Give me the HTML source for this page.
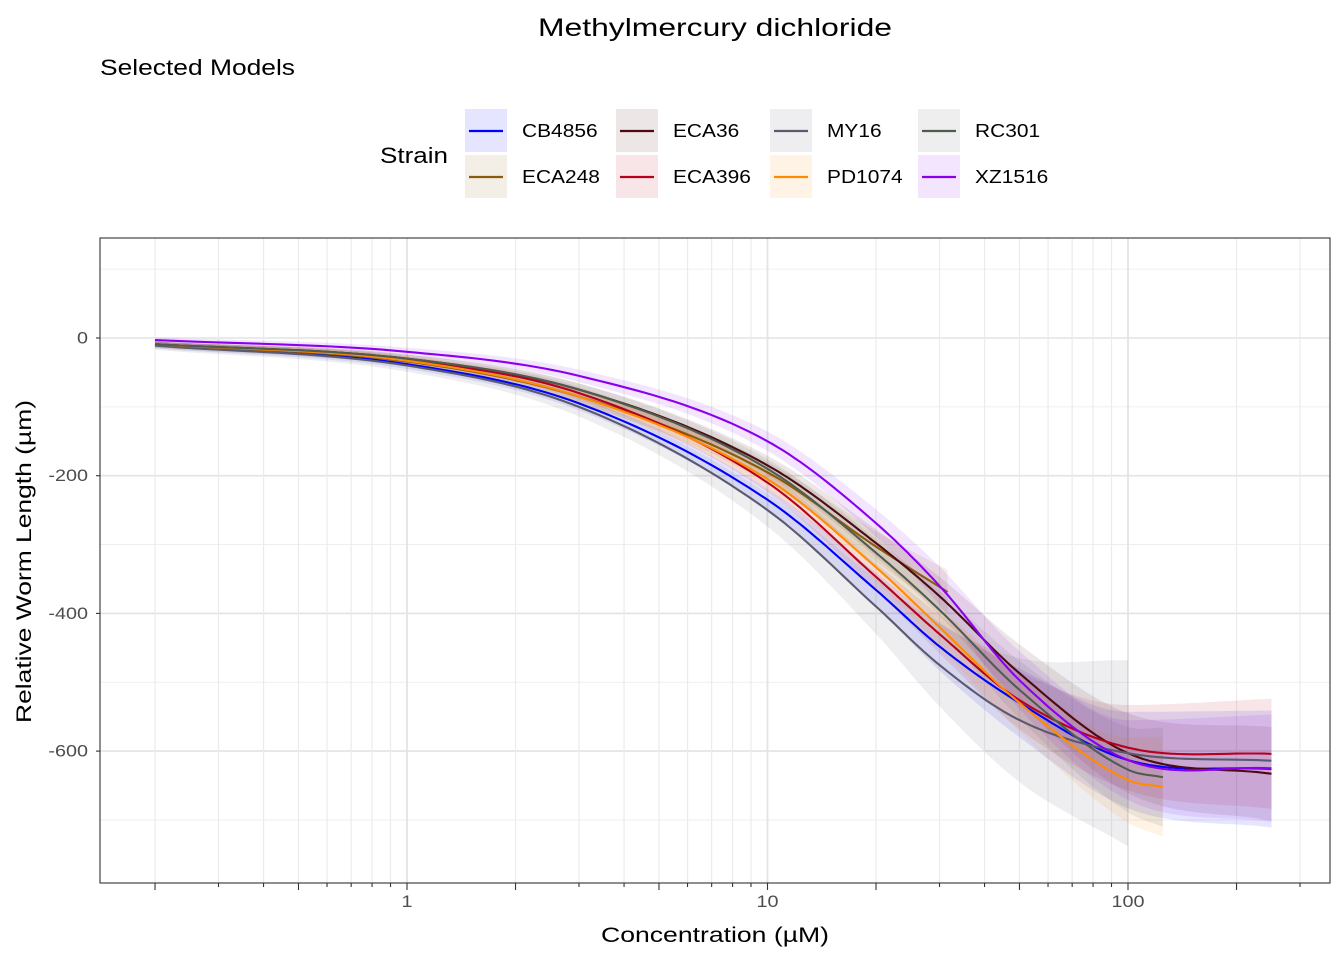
<!DOCTYPE html>
<html><head><meta charset="utf-8"><style>
body{margin:0;background:#fff;font-family:"Liberation Sans",Arial,sans-serif;}
svg text{font-family:"Liberation Sans",Arial,sans-serif;}
</style></head><body>
<svg id="chart" width="1344" height="960" viewBox="0 0 1344 960">
<rect width="1344" height="960" fill="#fff"/>
<text x="538" y="36" font-size="25" textLength="354" lengthAdjust="spacingAndGlyphs" fill="#000">Methylmercury dichloride</text>
<text x="100" y="75" font-size="22" textLength="195" lengthAdjust="spacingAndGlyphs" fill="#000">Selected Models</text>
<text x="380" y="163" font-size="22" textLength="68" lengthAdjust="spacingAndGlyphs" fill="#000">Strain</text>
<g id="legend"></g>
<g id="grid"></g>
<g id="ribbons"></g>
<g id="lines"></g>
<rect x="100" y="238" width="1230" height="645" fill="none" stroke="#333" stroke-width="1.1"/>
<g id="axes"></g>
<text x="601" y="942" font-size="21" textLength="228" lengthAdjust="spacingAndGlyphs" fill="#000">Concentration (µM)</text>
<text transform="translate(31,723) rotate(-90)" font-size="21" textLength="323" lengthAdjust="spacingAndGlyphs" fill="#000">Relative Worm Length (µm)</text>
</svg>
<script>
const strains = ["CB4856","ECA248","ECA36","ECA396","MY16","PD1074","RC301","XZ1516"];
const colors = ["#0000ff","#8b5a0a","#4d0a14","#b5001e","#5a5a6e","#ff8c00","#4f5d50","#8a00ee"];
const conc = [0.2,1,3,10,20,30,50,100,250];
const concShort = [0.2,1,3,10,20,30,50,100,125];
const concEca248 = [0.2,1,3,10,20,31.6];
const yCB4856 = [-10,-38,-95,-235,-366,-448,-530,-613,-626];
const yECA248 = [-10,-34,-85,-195,-303,-369];
const yECA36 = [-9,-30,-75,-185,-298,-375,-487,-603,-633];
const yECA396 = [-9,-32,-80,-210,-347,-430,-526,-595,-604];
const yMY16 = [-11,-40,-100,-250,-390,-475,-555,-603,-614];
const yPD1074 = [-9,-33,-85,-205,-333,-420,-530,-642,-652];
const yRC301 = [-9,-30,-75,-190,-312,-395,-511,-627,-638];
const yXZ1516 = [-3,-20,-55,-150,-269,-360,-497,-613,-625];
const wCB4856 = [5,7,10,16,25,35,50,70,85];
const wECA248 = [5,7,10,15,22,32];
const wECA36 = [4,6,9,14,20,28,42,58,68];
const wECA396 = [4,6,9,14,20,28,42,62,80];
const wMY16 = [6,9,14,24,40,60,90,135];
const wPD1074 = [4,6,9,14,20,28,42,62,72];
const wRC301 = [4,6,9,14,20,28,42,62,72];
const wXZ1516 = [4,6,9,14,20,28,42,58,78];
const yTicks = [0,-200,-400,-600];
const yMinor = [100,-100,-300,-500,-700];
const xMajor = [1,10,100];
const xLabels = ["1","10","100"];

const series = [
 [conc,yCB4856,wCB4856],[concEca248,yECA248,wECA248],[conc,yECA36,wECA36],[conc,yECA396,wECA396],
 [conc,yMY16,wMY16],[concShort,yPD1074,wPD1074],[concShort,yRC301,wRC301],[conc,yXZ1516,wXZ1516]];

const L=100,R=1330,T=238,B=883;
function X(c){return 407+(Math.log10(c))*360.5;}
function Y(v){return 338-v*0.6885;}
const NS="http://www.w3.org/2000/svg";
function mk(tag,attrs,parent){const e=document.createElementNS(NS,tag);for(const k in attrs)e.setAttribute(k,attrs[k]);parent.appendChild(e);return e;}
function widen(t,f){const w=t.getComputedTextLength();if(w>0){t.setAttribute('textLength',(w*f).toFixed(1));t.setAttribute('lengthAdjust','spacingAndGlyphs');}}

const grid=document.getElementById('grid');
mk('rect',{x:L,y:T,width:R-L,height:B-T,fill:'#fff'},grid);
yMinor.forEach(v=>{const e=mk('line',{x1:L,x2:R,y1:Y(v),y2:Y(v),stroke:'#ebebeb','stroke-width':0.8},grid);

});
yTicks.forEach(v=>{const e=mk('line',{x1:L,x2:R,y1:Y(v),y2:Y(v),stroke:'#e3e3e3','stroke-width':1.6},grid);

});
const axes=document.getElementById('axes');
for(let d=-1;d<=2;d++){for(let m=1;m<=9;m++){const c=m*Math.pow(10,d);if(c<0.2||c>300)continue;
 const x=X(c);const maj=(m===1);
 const g=mk('line',{x1:x,x2:x,y1:T,y2:B,stroke:maj?'#e3e3e3':'#ebebeb','stroke-width':maj?1.8:1.2},grid);
 
 
 const len=(m===1||m===2||m===5)?7:4;
 const t=mk('line',{x1:x,x2:x,y1:B,y2:B+len,stroke:'#333','stroke-width':1.1},axes);
 
 
}}
xMajor.forEach((c,i)=>{const t=mk('text',{x:X(c),y:B+24,'font-size':16.5,'text-anchor':'middle',fill:'#4d4d4d'},axes);t.textContent=xLabels[i];


widen(t,1.2);});
yTicks.forEach(v=>{const t=mk('text',{x:88,y:Y(v)+5.5,'font-size':16.5,'text-anchor':'end',fill:'#4d4d4d'},axes);t.textContent=String(v);


widen(t,1.2);
const k=mk('line',{x1:L-4,x2:L,y1:Y(v),y2:Y(v),stroke:'#333','stroke-width':1.1},axes);

});

function interp(xs,ys){const n=xs.length,lx=xs.map(Math.log10);const d=[],m=[];
 for(let i=0;i<n-1;i++)d.push((ys[i+1]-ys[i])/(lx[i+1]-lx[i]));
 m[0]=d[0];m[n-1]=d[n-2];for(let i=1;i<n-1;i++)m[i]=(d[i-1]*d[i]<=0)?0:(d[i-1]+d[i])/2;
 const pts=[];for(let i=0;i<n-1;i++){const h=lx[i+1]-lx[i];for(let s=0;s<20;s++){const t=s/20,t2=t*t,t3=t2*t;
  const y=(2*t3-3*t2+1)*ys[i]+(t3-2*t2+t)*h*m[i]+(-2*t3+3*t2)*ys[i+1]+(t3-t2)*h*m[i+1];
  pts.push([Math.pow(10,lx[i]+t*h),y]);}}
 pts.push([xs[n-1],ys[n-1]]);return pts;}

const rib=document.getElementById('ribbons'),lines=document.getElementById('lines');
series.forEach((s,i)=>{const [xs,ys,ws]=s;
 const k=ws.length;const rx=xs.slice(0,k),ry=ys.slice(0,k);
 const up=interp(rx,ry.map((v,j)=>v+ws[j])),lo=interp(rx,ry.map((v,j)=>v-ws[j]));
 const dR='M'+up.map(p=>X(p[0]).toFixed(1)+','+Y(p[1]).toFixed(1)).join('L')+'L'+lo.reverse().map(p=>X(p[0]).toFixed(1)+','+Y(p[1]).toFixed(1)).join('L')+'Z';
 const r=mk('path',{d:dR,fill:colors[i],'fill-opacity':0.1,stroke:'none'},rib);
 
 
 const pts=interp(xs,ys);
 const l=mk('path',{d:'M'+pts.map(p=>X(p[0]).toFixed(1)+','+Y(p[1]).toFixed(1)).join('L'),fill:'none',stroke:colors[i],'stroke-width':2.1},lines);
 
 
});

const leg=document.getElementById('legend');
const colX=[465,616,770,918];
strains.forEach((n,i)=>{const col=Math.floor(i/2),row=i%2;const bx=colX[col],by=109+row*46;
 const g=mk('g',{},leg);
 
 
 mk('rect',{x:bx,y:by,width:42,height:43,fill:colors[i],'fill-opacity':0.1},g);
 mk('line',{x1:bx+4,x2:bx+38,y1:by+22,y2:by+22,stroke:colors[i],'stroke-width':2.2},g);
 const t=mk('text',{x:bx+57,y:by+28,'font-size':18.5,fill:'#000'},g);t.textContent=n;
 widen(t,1.13);
});
</script>
</body></html>
